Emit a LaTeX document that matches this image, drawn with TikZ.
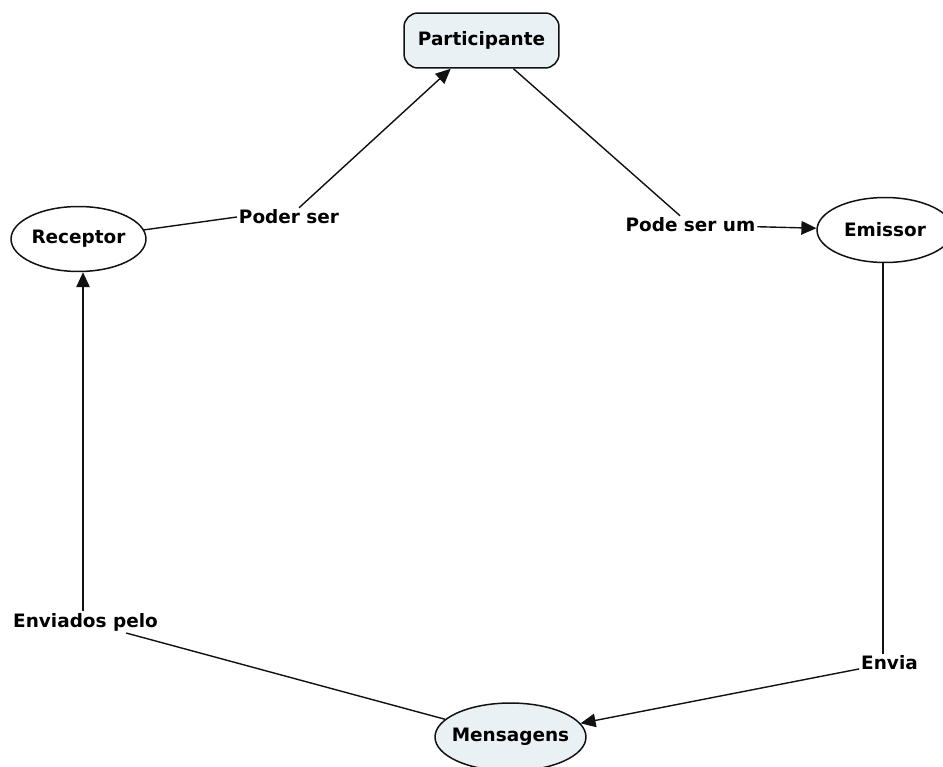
\documentclass[tikz,border=0pt]{standalone}
\usepackage{fontspec}
\setmainfont{DejaVu Sans}
\usepackage{tikz}
\usetikzlibrary{shapes.geometric, arrows.meta, positioning, calc}
\usepackage{xcolor}
\definecolor{conceptfill}{HTML}{EAF1F5}
\definecolor{inkline}{HTML}{111111}
\newcommand{\ctext}[1]{\makebox[0pt]{#1}}
\tikzset{
  concept/.style={ellipse, draw=inkline, line width=0.85pt, inner sep=0pt,
                  fill=white, font=\fontsize{10.5}{12}\selectfont\bfseries},
  rootbox/.style={rectangle, rounded corners=8pt, draw=inkline,
                  line width=0.85pt, fill=conceptfill, inner sep=0pt,
                  minimum width=3.1cm, minimum height=1.1cm,
                  font=\fontsize{10.5}{12}\selectfont\bfseries},
  linkword/.style={inner sep=1pt, font=\fontsize{10.5}{12}\selectfont\bfseries},
  link/.style={draw=inkline, line width=0.8pt},
  arrow/.style={link, -{Triangle[length=3mm, width=2.7mm]}},
}

\begin{document}
\begin{tikzpicture}[x=0.02cm, y=-0.02cm]
  \useasboundingbox (0,0) rectangle (943,767);

  %% Concepts
  \node[rootbox] (part) at (481.5,40.5) {Participante};
  \node[concept, minimum width=2.7cm, minimum height=1.3cm]
    (rec) at (78.5,239) {\ctext{Receptor}};
  \node[concept, minimum width=2.72cm, minimum height=1.3cm]
    (emi) at (885,230) {\ctext{Emissor}};
  \node[concept, fill=conceptfill, minimum width=3.02cm, minimum height=1.36cm]
    (msg) at (510.5,737) {\ctext{Mensagens}};

  %% Linking phrases
  \node[linkword] (poder) at (289,217) {Poder ser};
  \node[linkword] (podeum) at (690.5,225) {Pode ser um};
  \node[linkword] (envia) at (889.5,663) {Envia};
  \node[linkword] (enviados) at (85.5,622) {Enviados pelo};

  %% Connections
  \draw[link] (rec) -- (poder.west);
  \draw[arrow] (poder) -- (part);
  \draw[link] (part) -- (podeum);
  \draw[arrow] (podeum) -- (emi);
  \draw[link] (emi.south -| 883,0) -- (envia.north -| 883,0);
  \draw[arrow] (envia) -- (msg);
  \draw[link] (msg) -- (enviados);
  \draw[arrow] (enviados.north -| 83,0) -- (rec.south -| 83,0);

\end{tikzpicture}
\end{document}
